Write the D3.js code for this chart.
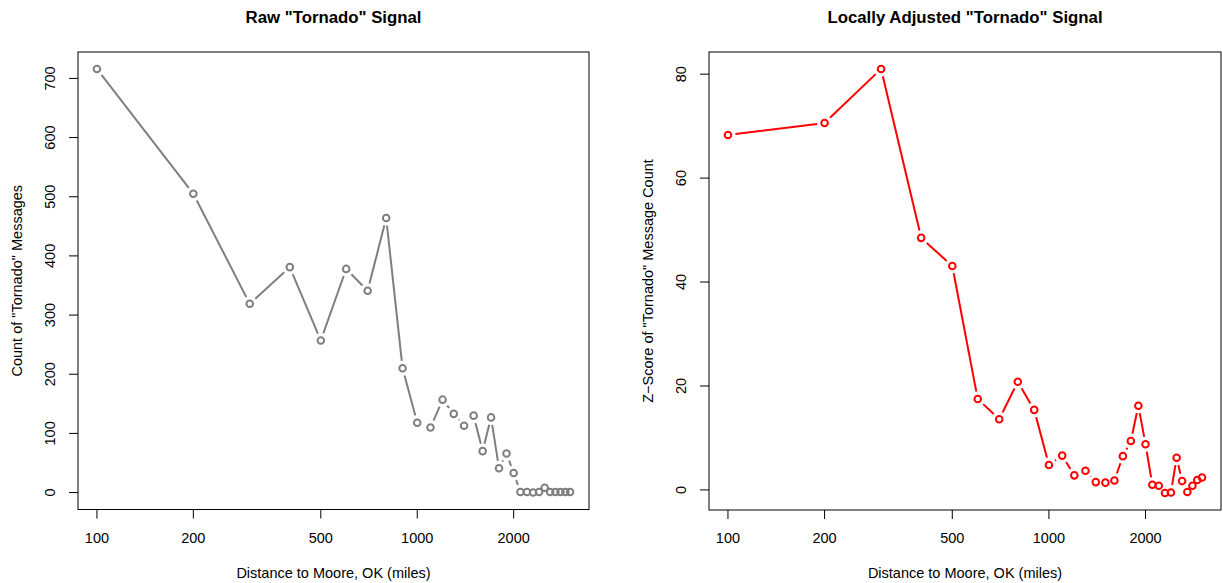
<!DOCTYPE html>
<html lang="en">
<head>
    <meta charset="UTF-8">
    <title>Tornado Signal</title>
    <script src="https://d3js.org/d3.v7.min.js"></script>
    <style>
        body { margin: 0; background: #fff; }
        text { font-family: "Liberation Sans", Arial, Helvetica, sans-serif; fill: #000; }
    </style>
</head>
<body>
    <div id="chart"></div>

    <script>
        // Distance to Moore, OK (miles)
        const distances = [100, 200, 300, 400, 500, 600, 700, 800, 900, 1000,
                           1100, 1200, 1300, 1400, 1500, 1600, 1700, 1800, 1900, 2000,
                           2100, 2200, 2300, 2400, 2500, 2600, 2700, 2800, 2900, 3000];

        // raw message counts
        const rawCounts = [716, 505, 319, 381, 257, 378, 341, 464, 210, 118,
                           110, 157, 133, 113, 130, 70, 127, 41, 66, 33,
                           1, 1, 0, 1, 8, 1, 1, 1, 1, 1];

        // locally adjusted z-scores
        const zScores = [68.3, 70.6, 81.0, 48.5, 43.1, 17.5, 13.6, 20.8, 15.4, 4.8,
                         6.6, 2.8, 3.7, 1.5, 1.4, 1.8, 6.5, 9.4, 16.2, 8.8,
                         1.0, 0.8, -0.6, -0.5, 6.2, 1.7, -0.4, 0.8, 1.9, 2.4];

        const xTicks = [100, 200, 500, 1000, 2000];
        const rawTicks = [0, 100, 200, 300, 400, 500, 600, 700];
        const zTicks = [0, 20, 40, 60, 80];

        const W = 1223, H = 583;
        const svg = d3.select("#chart").append("svg")
            .attr("width", W)
            .attr("height", H);

        // R-style 4% padding on the data range
        function padded(lo, hi) {
            const p = (hi - lo) * 0.04;
            return [lo - p, hi + p];
        }

        function panel(opts) {
            const {left, right, top, bottom, values, yTicks, color, title, yLabel, labelX} = opts;

            const lx = padded(Math.log10(d3.min(distances)), Math.log10(d3.max(distances)));
            const x = d3.scaleLog()
                .domain([Math.pow(10, lx[0]), Math.pow(10, lx[1])])
                .range([left, right]);
            const y = d3.scaleLinear()
                .domain(padded(d3.min(values), d3.max(values)))
                .range([bottom, top]);

            const g = svg.append("g");

            // box
            g.append("rect")
                .attr("x", left).attr("y", top)
                .attr("width", right - left).attr("height", bottom - top)
                .attr("fill", "none")
                .attr("stroke", "#000")
                .attr("stroke-width", 1);

            // x axis ticks + labels
            g.selectAll(".xt").data(xTicks).enter().append("line")
                .attr("x1", d => x(d)).attr("x2", d => x(d))
                .attr("y1", bottom).attr("y2", bottom + 9)
                .attr("stroke", "#000");
            g.selectAll(".xl").data(xTicks).enter().append("text")
                .attr("x", d => x(d))
                .attr("y", bottom + 33)
                .attr("text-anchor", "middle")
                .style("font-size", "14.5px")
                .text(d => d);

            // y axis ticks + labels
            g.selectAll(".yt").data(yTicks).enter().append("line")
                .attr("x1", left - 9).attr("x2", left)
                .attr("y1", d => y(d)).attr("y2", d => y(d))
                .attr("stroke", "#000");
            g.selectAll(".yl").data(yTicks).enter().append("text")
                .attr("transform", d => `translate(${left - 28},${y(d)}) rotate(-90)`)
                .attr("text-anchor", "middle")
                .attr("dy", "0.35em")
                .style("font-size", "14.5px")
                .text(d => d);

            // titles
            g.append("text")
                .attr("x", (left + right) / 2)
                .attr("y", 23)
                .attr("text-anchor", "middle")
                .style("font-size", "16.8px")
                .style("font-weight", "bold")
                .text(title);
            g.append("text")
                .attr("x", (left + right) / 2)
                .attr("y", 578)
                .attr("text-anchor", "middle")
                .style("font-size", "14.5px")
                .text("Distance to Moore, OK (miles)");
            g.append("text")
                .attr("transform", `translate(${labelX},${(top + bottom) / 2}) rotate(-90)`)
                .attr("text-anchor", "middle")
                .attr("dy", "0.35em")
                .style("font-size", "14.5px")
                .text(yLabel);

            // type="b": segments with a gap around each point
            const pts = distances.map((d, i) => [x(d), y(values[i])]);
            const gap = 7.5;
            const segs = [];
            for (let i = 0; i < pts.length - 1; i++) {
                const [x1, y1] = pts[i], [x2, y2] = pts[i + 1];
                const dx = x2 - x1, dy = y2 - y1;
                const len = Math.sqrt(dx * dx + dy * dy);
                if (len > 2 * gap) {
                    const ux = dx / len, uy = dy / len;
                    segs.push([x1 + ux * gap, y1 + uy * gap, x2 - ux * gap, y2 - uy * gap]);
                }
            }
            g.selectAll(".seg").data(segs).enter().append("line")
                .attr("x1", d => d[0]).attr("y1", d => d[1])
                .attr("x2", d => d[2]).attr("y2", d => d[3])
                .attr("stroke", color)
                .attr("stroke-width", 2);

            g.selectAll(".pt").data(pts).enter().append("circle")
                .attr("cx", d => d[0]).attr("cy", d => d[1])
                .attr("r", 3.3)
                .attr("fill", "none")
                .attr("stroke", color)
                .attr("stroke-width", 2);
        }

        panel({
            left: 78, right: 589, top: 52, bottom: 509.5,
            values: rawCounts, yTicks: rawTicks, color: "#7f7f7f",
            title: 'Raw "Tornado" Signal',
            yLabel: 'Count of "Tornado" Messages',
            labelX: 17
        });

        panel({
            left: 709, right: 1221, top: 52, bottom: 510,
            values: zScores, yTicks: zTicks, color: "#ff0000",
            title: 'Locally Adjusted "Tornado" Signal',
            yLabel: 'Z\u2212Score of "Tornado" Message Count',
            labelX: 648
        });
    </script>
</body>
</html>
